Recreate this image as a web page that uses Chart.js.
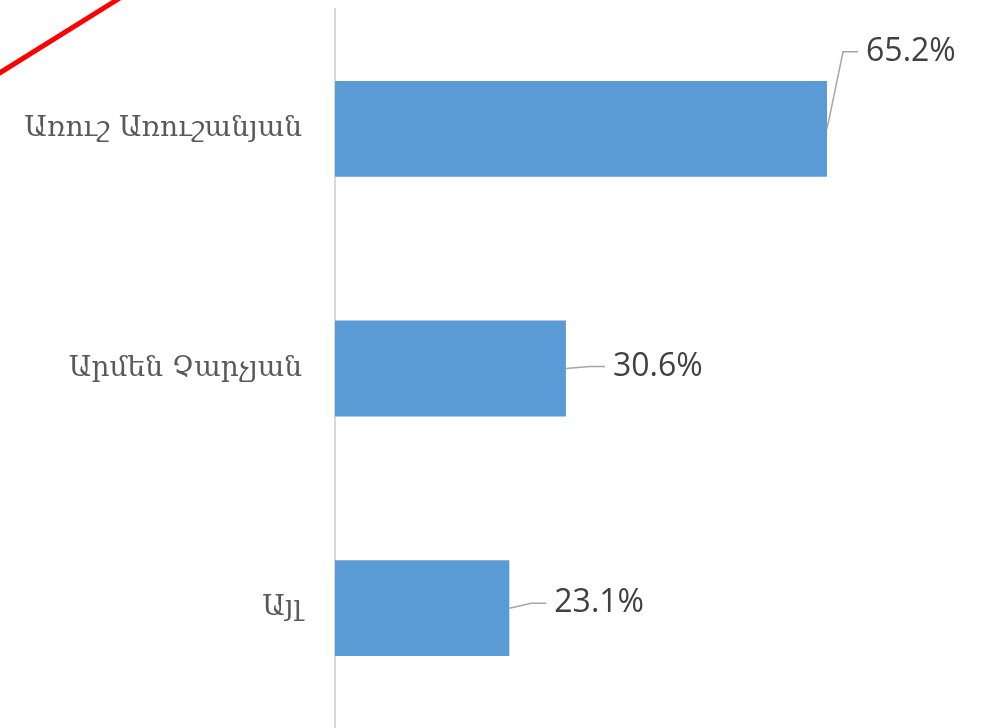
<!DOCTYPE html>
<html>
<head>
<meta charset="utf-8">
<script src="https://cdn.jsdelivr.net/npm/chart.js@4"></script>
<style>
  html, body { margin: 0; padding: 0; background: #fff; }
  #wrap { width: 987px; height: 728px; position: relative; }
</style>
</head>
<body>
<div id="wrap"><canvas id="myChart"></canvas></div>
<script>
// Datos
const categories = ['Առուշ Առուշանյան', 'Արմեն Չարչյան', 'Այլ'];
const values = [65.2, 30.6, 23.1];

// Desplazamiento de las etiquetas respecto al final de cada barra
const labelOffsets = [[39, -77], [47, -2], [45, -5]];

// Etiquetas de datos con líneas guía
const leaderLabels = {
  id: 'leaderLabels',
  afterDatasetsDraw(chart) {
    const ctx = chart.ctx;
    const meta = chart.getDatasetMeta(0);
    ctx.save();
    meta.data.forEach((bar, i) => {
      const [dx, dy] = labelOffsets[i];
      const tx = bar.x + dx;
      const ty = bar.y + dy;
      ctx.strokeStyle = '#a6a6a6';
      ctx.lineWidth = 1.5;
      ctx.beginPath();
      ctx.moveTo(bar.x, bar.y);
      ctx.lineTo(tx - 23, ty);
      ctx.lineTo(tx - 8, ty);
      ctx.stroke();
      ctx.fillStyle = '#404040';
      ctx.font = '32px "Open Sans", sans-serif';
      ctx.textAlign = 'left';
      ctx.textBaseline = 'middle';
      ctx.fillText(values[i].toFixed(1) + '%', tx, ty);
    });
    // Línea roja de la esquina
    ctx.strokeStyle = '#ff0000';
    ctx.lineWidth = 5;
    ctx.beginPath();
    ctx.moveTo(-2, 74);
    ctx.lineTo(120, -2);
    ctx.stroke();
    ctx.restore();
  }
};

const ctx = document.getElementById('myChart').getContext('2d');
const myChart = new Chart(ctx, {
  type: 'bar',
  data: {
    labels: categories,
    datasets: [{
      data: values,
      backgroundColor: '#5b9bd5',
      barPercentage: 0.4,
      categoryPercentage: 1.0
    }]
  },
  options: {
    indexAxis: 'y',
    responsive: true,
    maintainAspectRatio: false,
    animation: false,
    layout: { padding: { top: 9, right: 3, bottom: -1, left: 0 } },
    plugins: {
      legend: { display: false },
      tooltip: { enabled: false }
    },
    scales: {
      x: {
        display: false,
        min: 0,
        max: 86
      },
      y: {
        grid: { display: false },
        border: { display: true, color: '#d9d9d9', width: 2 },
        ticks: {
          color: '#595959',
          padding: 25,
          font: { family: '"DejaVu Serif", serif', size: 28 }
        },
        afterFit(scale) {
          scale.width = 335;
          scale.paddingTop = 0;
          scale.paddingBottom = 0;
        }
      }
    }
  },
  plugins: [leaderLabels]
});
</script>
</body>
</html>
